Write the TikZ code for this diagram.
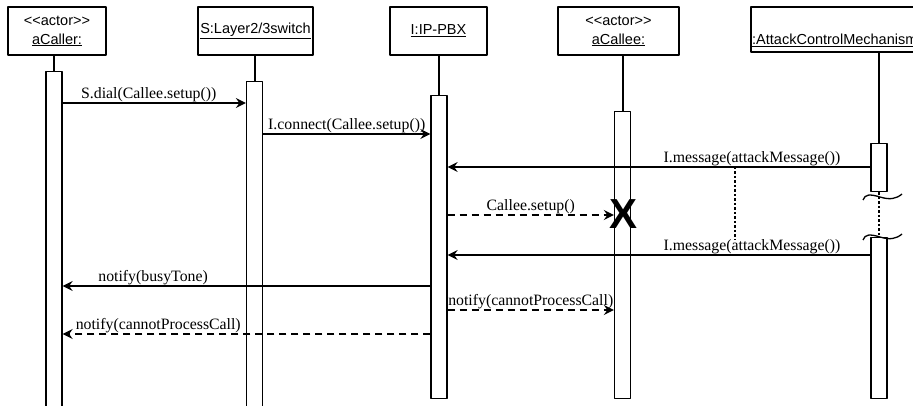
\documentclass[tikz,border=0pt]{standalone}
\usepackage{fontspec}
\setmainfont{Liberation Serif}
\newfontfamily\headfont{Liberation Sans}
\usetikzlibrary{arrows.meta}

\begin{document}
\begin{tikzpicture}[>={Stealth[length=10bp,width=10bp,inset=3.5bp]},line join=bevel,
  head/.style={draw,line width=1.3bp,minimum height=48bp,inner sep=0pt,align=center,
    font=\headfont\fontsize{14.5bp}{19bp}\selectfont},
  actbar/.style={draw,fill=white,line width=1.3bp,minimum width=16bp,inner sep=0pt,anchor=north},
  life/.style={line width=2bp},
  msg/.style={->,line width=1.3bp},
  reply/.style={->,line width=2bp,dash pattern=on 7bp off 5bp},
  lbl/.style={font=\fontsize{15.8bp}{18bp}\selectfont,inner sep=0pt,above},
  gap/.style={line width=2.5bp,dash pattern=on 2.5bp off 2bp},
  brk/.style={line width=1.3bp},
]
  \useasboundingbox (0bp,0bp) rectangle (913bp,406bp);
  \clip (0bp,0bp) rectangle (913bp,406bp);
%%
  % Node: callerHead
  \node[head,minimum width=98bp] (callerHead) at (57bp,375bp) {<\kern0pt<actor>\kern0pt>\\\underline{aCaller:}};
  % Node: switchHead
  \node[head,minimum width=115bp] (switchHead) at (255.5bp,375bp) {\underline{S:Layer2/3switch}};
  % Node: pbxHead
  \node[head,minimum width=97bp] (pbxHead) at (438.5bp,375bp) {\underline{I:IP-PBX}};
  % Node: calleeHead
  \node[head,minimum width=121bp] (calleeHead) at (618.5bp,375bp) {<\kern0pt<actor>\kern0pt>\\\underline{aCallee:}};
  % Node: attackHead
  \node[head,minimum width=256bp,minimum height=45bp] (attackHead) at (879bp,376.5bp) {};
  \node[anchor=base west,inner sep=0pt,font=\headfont\fontsize{14.5bp}{19bp}\selectfont] (attackLbl)
    at (752bp,361bp) {\underline{:AttackControlMechanism}};
%%
  % Node: activation bars
  \node[actbar,minimum height=337bp] (callerAct) at (54bp,335bp) {};
  \node[actbar,minimum height=327bp] (switchAct) at (254.5bp,325bp) {};
  \node[actbar,minimum height=303bp] (pbxAct) at (439bp,311bp) {};
  \node[actbar,minimum height=287bp] (calleeAct) at (622.5bp,295bp) {};
  \node[actbar,minimum height=48bp] (attackActA) at (879bp,263bp) {};
  \node[actbar,minimum height=161bp] (attackActB) at (879bp,169bp) {};
%%
  % Edge: lifelines
  \draw[life] (callerHead.south -| callerAct.north) -- (callerAct.north);
  \draw[life] (switchHead.south -| switchAct.north) -- (switchAct.north);
  \draw[life] (pbxHead.south -| pbxAct.north) -- (pbxAct.north);
  \draw[life] (calleeHead.south -| calleeAct.north) -- (calleeAct.north);
  \draw[life] (attackHead.south -| attackActA.north) -- (attackActA.north);
  % Edge: attackActA -> attackActB (broken lifeline)
  \draw[gap] (attackActA.south) -- (attackActB.north);
  \draw[brk] (863bp,206bp) .. controls (865bp,212bp) and (870bp,212bp) .. (880bp,209bp)
    .. controls (890bp,206bp) and (896bp,207bp) .. (902bp,212bp);
  \draw[brk] (863bp,166bp) .. controls (865bp,172bp) and (870bp,172bp) .. (880bp,169bp)
    .. controls (890bp,166bp) and (896bp,167bp) .. (902bp,172bp);
%%
  % Edge: callerAct -> switchAct
  \draw[msg] (callerAct.east |- 0,303bp) -- (switchAct.west |- 0,303bp)
    node[lbl,pos=0.47] {S.dial(Callee.setup())};
  % Edge: switchAct -> pbxAct
  \draw[msg] (switchAct.east |- 0,272bp) -- (pbxAct.west |- 0,272bp)
    node[lbl,midway] {I.connect(Callee.setup())};
  % Edge: attackActA -> pbxAct
  \draw[msg] (attackActA.west |- 0,239bp) -- (pbxAct.east |- 0,239bp)
    node[lbl,pos=0.28] (msgA) {I.message(attackMessage())};
  % Edge: pbxAct -> calleeAct
  \draw[reply] (pbxAct.east |- 0,191bp) -- (calleeAct.west |- 0,191bp)
    node[lbl,midway] {Callee.setup()};
  \node[inner sep=0pt,font=\headfont\bfseries\fontsize{42bp}{42bp}\selectfont] (stop) at (623bp,192bp) {X};
  % Edge: attackActB -> pbxAct
  \draw[msg] (attackActB.west |- 0,151bp) -- (pbxAct.east |- 0,151bp)
    node[lbl,pos=0.28] (msgB) {I.message(attackMessage())};
  % Edge: msgA -> msgB (repeat)
  \draw[gap] (735bp,239bp) -- (msgB.north -| 735bp,0);
  % Edge: pbxAct -> callerAct
  \draw[msg] (pbxAct.west |- 0,120bp) -- (callerAct.east |- 0,120bp)
    node[lbl,pos=0.754] {notify(busyTone)};
  % Edge: pbxAct -> calleeAct
  \draw[reply] (pbxAct.east |- 0,96bp) -- (calleeAct.west |- 0,96bp)
    node[lbl,midway] {notify(cannotProcessCall)};
  % Edge: pbxAct -> callerAct
  \draw[reply] (pbxAct.west |- 0,72bp) -- (callerAct.east |- 0,72bp)
    node[lbl,pos=0.74] {notify(cannotProcessCall)};
%
\end{tikzpicture}
\end{document}
